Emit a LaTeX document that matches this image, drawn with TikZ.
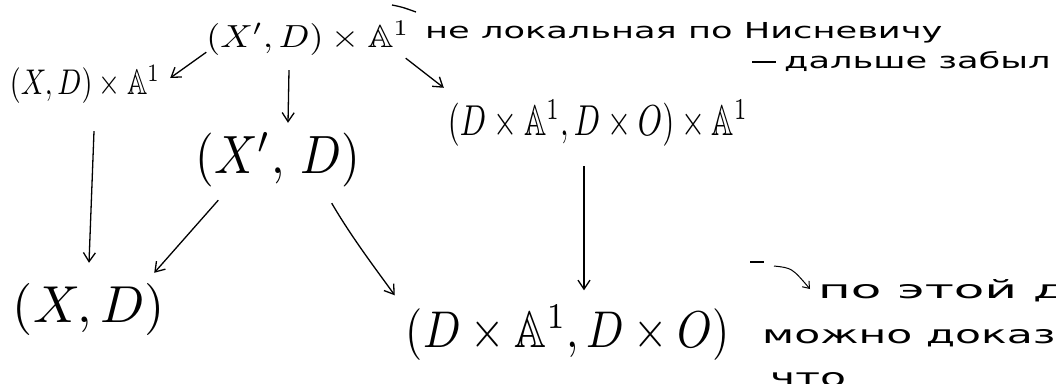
\documentclass[tikz,border=0pt]{standalone}
\usepackage{amssymb}
\usepackage{graphicx}
\usepackage{fontspec}
\newfontfamily\rufont{DejaVu Sans}
\usetikzlibrary{arrows.meta,calc}
\newcommand{\objw}[3]{\resizebox*{#1pt}{#2pt}{$#3$}}
\newcommand{\wide}[2]{\scalebox{#1}[1]{#2}}
\tikzset{
  obj/.style={inner sep=0pt},
  note/.style={inner sep=0pt, anchor=base west, font=\rufont\fontsize{22}{26}\selectfont},
  bignote/.style={note, font=\rufont\fontsize{25}{30}\selectfont},
  arr/.style={line width=1.3pt, -{Straight Barb[length=9pt,width=12pt,line width=1.3pt]}},
  stroke/.style={line width=1.3pt},
}
\begin{document}
\begin{tikzpicture}[x=1pt,y=-1pt]
\useasboundingbox (0,0) rectangle (1056,383);
\clip (0,0) rectangle (1056,383);
\fill[white] (0,0) rectangle (1056,383);
% objects
\node[obj] (top) at (308,38) {\objw{203}{34}{(X',D)\times\mathbb{A}^1}};
\node[obj] (xda) at (85,84) {\objw{150}{38}{(X,D)\times\mathbb{A}^1}};
\node[obj] (dda) at (598,123) {\objw{300}{46}{(D\times\mathbb{A}^1,D\times O)\times\mathbb{A}^1}};
\node[obj] (xpd) at (278,160) {\objw{165}{54}{(X',\,D)}};
\node[obj] (xd) at (89,309) {\objw{152}{52}{(X,D)}};
\node[obj] (dd) at (568,333) {\objw{324}{55}{(D\times\mathbb{A}^1,D\times O)}};
% arrows
\draw[arr] ($(top.south west)+(0,-3)$) -- ($(xda.east)+(10,-6)$);
\draw[arr] ($(top.south)+(-19,15)$) -- ($(xpd.north)+(10,-10)$);
\draw[arr] ($(top.south east)+(-4,3)$) -- ($(dda.north west)+(-4,-12)$);
\draw[arr] ($(xda.south)+(9,28)$) -- ($(xd.north)+(0,-20)$);
\draw[arr] ($(xpd.south west)+(23,13)$) -- ($(xd.north east)+(-11,-10)$);
\draw[arr] ($(xpd.south east)+(-29,16)$) .. controls (352,238) and (378,272) .. ($(dd.north west)+(-11,-10)$);
\draw[arr] ($(dda.south)+(-14,20)$) -- ($(dd.north)+(16,-15)$);
% notes
\coordinate (c1) at (392,5);
\coordinate (c2) at (416,12);
\draw[stroke] (c1) .. controls (402,7) .. (c2);
\node[note] (n1) at (425,38) {\wide{1.6}{не локальная по Нисневичу}};
\coordinate (d1) at (752,62);
\coordinate (d2) at (776,62);
\draw[stroke] (d1) -- (d2);
\node[note] (n2) at (784,68) {\wide{1.6}{дальше забыл}};
\coordinate (s1) at (750,262);
\coordinate (s2) at (764,262);
\coordinate (s3) at (774,266);
\coordinate (s4) at (810,289);
\draw[stroke] (s1) -- (s2);
\draw[line width=1pt, -{Straight Barb[length=6pt,width=9pt]}] (s3) .. controls (792,268) .. (s4);
\node[bignote] (n3) at (818,298) {\wide{2.0}{по этой до}};
\node[bignote] (n4) at (762,343) {\wide{1.7}{можно доказ}};
\node[bignote] (n5) at (770,386) {\wide{1.7}{что}};
\end{tikzpicture}
\end{document}
